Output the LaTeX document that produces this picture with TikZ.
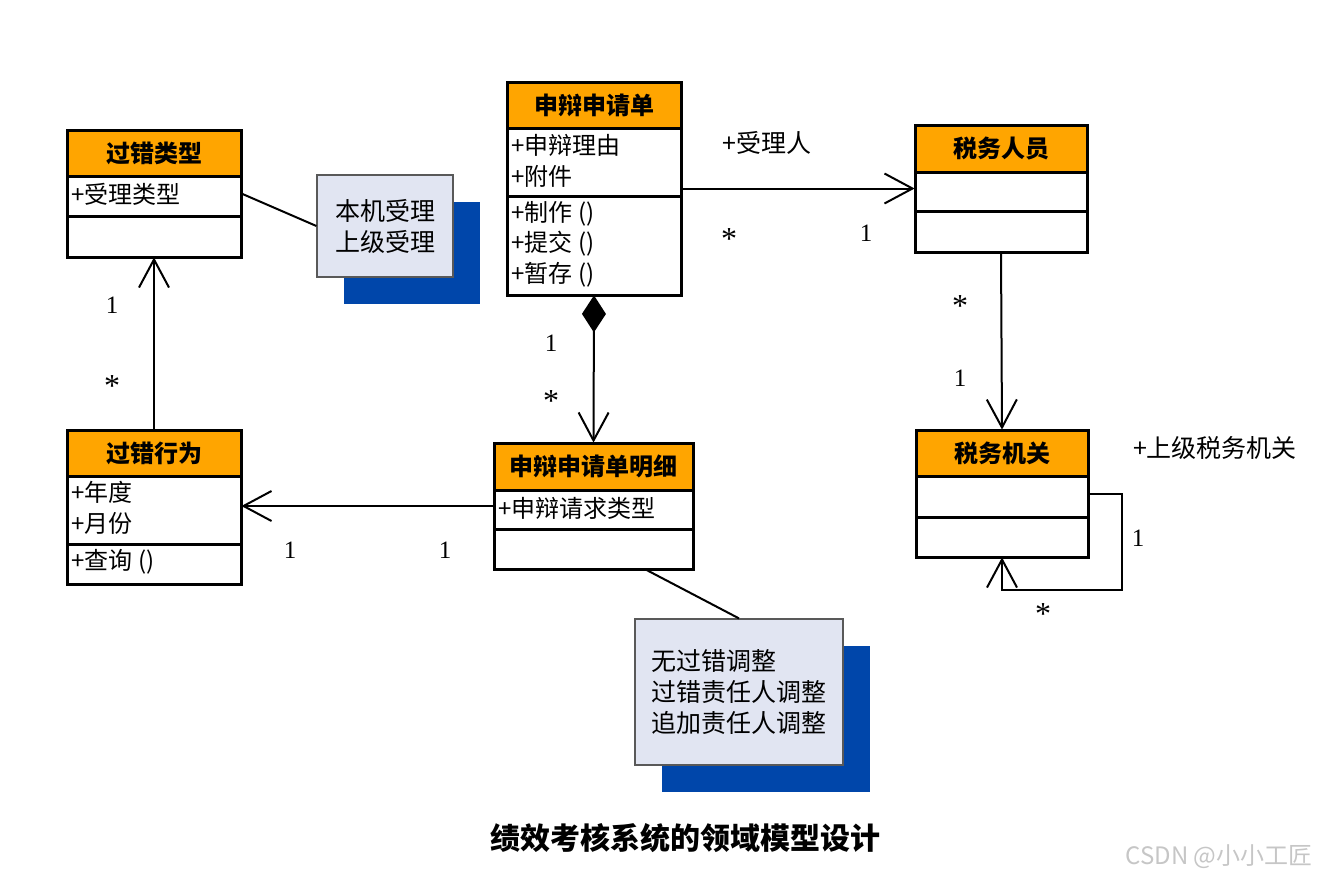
\documentclass[tikz,border=0pt]{standalone}
\usepackage{fontspec}
\setmainfont{Liberation Serif}
\newfontfamily\cjk{Noto Sans CJK SC}
\usetikzlibrary{arrows.meta,fit,calc,shadows}
\definecolor{headorange}{RGB}{255,165,0}
\definecolor{notefill}{RGB}{225,229,242}
\definecolor{noteshadow}{RGB}{0,70,170}
\newcommand{\umlclass}[8]
{   \fill[headorange] (#2,#3) rectangle (#4,#5);
    \draw[classline] (#2,#5) -- (#4,#5) (#2,#6) -- (#4,#6);
    \draw[classline] (#2,#3) rectangle (#4,#7);
    \node[fit={(#2,#3) (#4,#7)}, inner sep=0pt] (#1) {};
    \node[classtitle] (#1-title) at ({(#2+#4)/2},{(#3+#5)/2}) {#8};
}

\begin{document}
\begin{tikzpicture}[x=0.5pt,y=-0.5pt,
  classline/.style={line width=1.5pt},
  classtitle/.style={font=\cjk\bfseries\fontsize{12}{14}\selectfont, inner sep=0pt},
  member/.style={font=\cjk\fontsize{12}{15.3}\selectfont, anchor=west, align=left, inner sep=2pt},
  assoc/.style={line width=1pt},
  navarrow/.style={-{Straight Barb[length=14pt,width=15pt]}},
  mult/.style={font=\fontsize{12.5}{14}\selectfont, inner sep=0pt},
  multstar/.style={font=\fontsize{16}{18}\selectfont, inner sep=0pt},
  role/.style={font=\cjk\fontsize{12.5}{14}\selectfont, inner sep=0pt},
  note/.style={draw=gray!70!black, line width=0.6pt, fill=notefill, align=left, inner sep=0pt,
    font=\cjk\fontsize{12.5}{15.5}\selectfont,
    drop shadow={shadow xshift=13.5pt, shadow yshift=-13.5pt, fill=noteshadow, opacity=1}}]

 \useasboundingbox (0,0) rectangle (1321,879);

 \umlclass{gt}{67}{130}{241}{176}{216}{257}{过错类型}
 \node[member] (gt-attr) at (67,194) {+受理类型};

 \umlclass{sq}{507}{82}{681}{128}{196}{295}{申辩申请单}
 \node[member] (sq-attr) at (507,161) {+申辩理由\\+附件};
 \node[member] (sq-ops) at (507,244) {+制作 ()\\+提交 ()\\+暂存 ()};

 \umlclass{tr}{915}{125}{1087}{172}{211}{252}{税务人员}
 \umlclass{tj}{916}{430}{1088}{476}{517}{557}{税务机关}

 \umlclass{gb}{67}{430}{241}{476}{544}{584}{过错行为}
 \node[member] (gb-attr) at (67,508) {+年度\\+月份};
 \node[member] (gb-ops) at (67,562) {+查询 ()};

 \umlclass{sqd}{494}{443}{693}{490}{529}{569}{申辩申请单明细}
 \node[member] (sqd-attr) at (494,508) {+申辩请求类型};

 \node[note, minimum width=68pt, minimum height=51pt] (n1) at (385,226) {本机受理\\上级受理};
 \node[note, minimum width=104pt, minimum height=73pt] (n2) at (739,692) {无过错调整\\过错责任人调整\\追加责任人调整};

 \draw[assoc] (gt.east) -- (n1.west);
 \draw[assoc] ($(sqd.south west)!0.76!(sqd.south east)$) -- (n2.north);
 \draw[assoc, navarrow] (gb.north) -- (gt.south);
 \draw[assoc, navarrow] (sqd.west) -- (sqd.west -| gb.east);
 \draw[assoc, {Diamond[length=18.5pt,width=12pt]}-{Straight Barb[length=14pt,width=15pt]}] (sq.south) -- (sqd.north);
 \draw[assoc, navarrow] (sq.east) -- (sq.east -| tr.west);
 \draw[assoc, navarrow] (tr.south) -- (tj.north);
 \draw[assoc, navarrow] (tj.east) -- ++(34,0) |- ($(tj.south)+(0,33)$) -- (tj.south);

 \node[mult] (m-gt) at (112,305) {1};
 \node[multstar] (m-gb) at (112,386) {*};
 \node[mult] (m-gb2) at (290,550) {1};
 \node[mult] (m-sqd) at (445,550) {1};
 \node[mult] (m-sq) at (551,343) {1};
 \node[multstar] (m-sqd2) at (551,401) {*};
 \node[role] (r-tr) at (767,143) {+受理人};
 \node[multstar] (m-sq2) at (729,239) {*};
 \node[mult] (m-tr) at (866,233) {1};
 \node[multstar] (m-tr2) at (960,306) {*};
 \node[mult] (m-tj) at (960,378) {1};
 \node[role] (r-tj) at (1215,448) {+上级税务机关};
 \node[mult] (m-tj2) at (1138,538) {1};
 \node[multstar] (m-tj3) at (1043,614) {*};

 \node[font=\cjk\bfseries\fontsize{15}{18}\selectfont] (caption) at (685,838) {绩效考核系统的领域模型设计};
 \node[font=\cjk\fontsize{12}{14}\selectfont, text=gray!45] (mark) at (1219,857) {CSDN @小小工匠};

\end{tikzpicture}
\end{document}
